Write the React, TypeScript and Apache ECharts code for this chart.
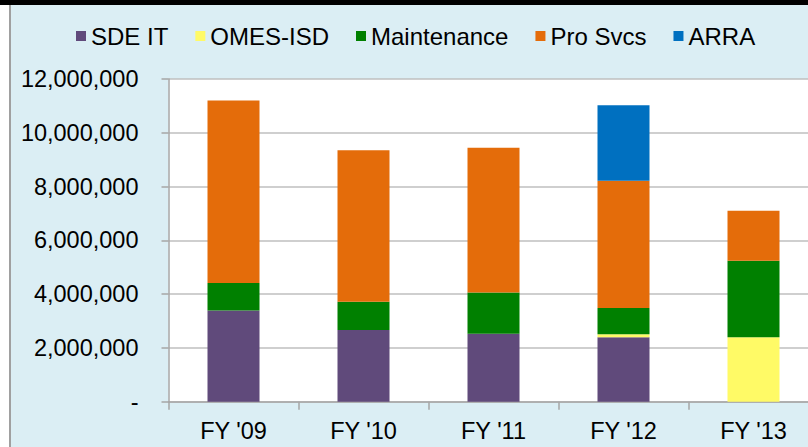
import React, { useEffect, useRef } from "react";
import * as echarts from "echarts";

const categories = ["FY '09", "FY '10", "FY '11", "FY '12", "FY '13"];
const sdeIt = [3390000, 2670000, 2530000, 2400000, 0];
const omesIsd = [0, 0, 0, 110000, 2400000];
const maintenance = [1020000, 1050000, 1530000, 970000, 2840000];
const proSvcs = [6790000, 5630000, 5380000, 4740000, 1860000];
const arra = [0, 0, 0, 2800000, 0];

const seriesNames = ["SDE IT", "OMES-ISD", "Maintenance", "Pro Svcs", "ARRA"];
const seriesColors = ["#604A7B", "#FFFA66", "#008000", "#E46C0A", "#0070C0"];
const seriesData = [sdeIt, omesIsd, maintenance, proSvcs, arra];

const FONT = "'Liberation Sans', Arial, sans-serif";

export default function App() {
  const ref = useRef<HTMLDivElement>(null);
  useEffect(() => {
    if (!ref.current) return;
    const chart = echarts.init(ref.current, undefined, { renderer: "svg" });
    chart.setOption({
      animation: false,
      backgroundColor: "#DBEEF4",
      textStyle: { fontFamily: FONT },
      graphic: [
        { type: "rect", shape: { x: 0, y: 0, width: 9, height: 447 }, style: { fill: "#FFFFFF" } },
        { type: "rect", shape: { x: 9, y: 5, width: 2, height: 442 }, style: { fill: "#A0A0A0" } },
        { type: "rect", shape: { x: 0, y: 0, width: 808, height: 5 }, style: { fill: "#000000" } },
      ],
      legend: {
        top: 19,
        left: 71,
        itemWidth: 10,
        itemHeight: 10,
        itemGap: 27,
        icon: "rect",
        textStyle: { fontSize: 24, color: "#000", fontFamily: FONT },
        data: seriesNames,
      },
      grid: {
        left: 168.5,
        width: 650,
        top: 79,
        bottom: 45.3,
        outerBoundsMode: "none",
        containLabel: false,
        show: true,
        backgroundColor: "#FFFFFF",
        borderWidth: 0,
      },
      xAxis: {
        type: "category",
        data: categories,
        axisLine: { lineStyle: { color: "#A6A6A6", width: 1.5 } },
        axisTick: { show: true, length: 8, lineStyle: { color: "#A6A6A6", width: 1.5 } },
        axisLabel: { fontSize: 23.5, color: "#000", margin: 17, fontFamily: FONT },
      },
      yAxis: {
        type: "value",
        min: 0,
        max: 12000000,
        interval: 2000000,
        axisLine: { show: true, lineStyle: { color: "#A6A6A6", width: 1.5 } },
        axisTick: { show: true, length: 7, lineStyle: { color: "#A6A6A6", width: 1.5 } },
        splitLine: { show: true, lineStyle: { color: "#BFBFBF", width: 1.5 } },
        axisLabel: {
          fontSize: 23.5,
          color: "#000",
          margin: 30,
          fontFamily: FONT,
          formatter: (v: number) => (v === 0 ? "-" : v.toLocaleString("en-US")),
        },
      },
      series: seriesNames.map((name, i) => ({
        name,
        type: "bar",
        stack: "total",
        barWidth: 52,
        data: seriesData[i],
        itemStyle: { color: seriesColors[i] },
      })),
    });
    return () => chart.dispose();
  }, []);
  return (
    <div
      ref={ref}
      style={{ position: "absolute", left: 0, top: 0, width: 808, height: 447 }}
    />
  );
}
